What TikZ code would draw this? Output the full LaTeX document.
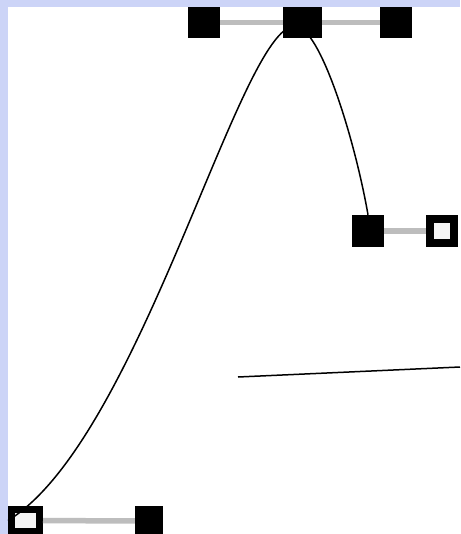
\documentclass[tikz,border=0pt]{standalone}
\usetikzlibrary{calc}
\definecolor{frame}{RGB}{204,212,247}
\begin{document}
\begin{tikzpicture}[x=1pt,y=-1pt,
  knob/.style={fill=black,inner sep=0pt,minimum width=32pt,minimum height=32pt},
  hollow/.style={draw=black,fill=black!4,line width=8pt,inner sep=0pt,
    minimum width=24pt,minimum height=24pt},
  rail/.style={draw=black!26,line width=5.5pt},
  bez/.style={draw=black,line width=1.5pt}]
  \useasboundingbox (0,0) rectangle (460,534);
  \fill[frame] (0,0) rectangle (460,534);
  \fill[white] (8,7) rectangle (460,534);

  % handles
  \node[knob,minimum height=31pt] (topL) at (204,22.5) {};
  \node[knob,minimum height=31pt,minimum width=39pt] (topM) at (302.5,22.5) {};
  \node[knob,minimum height=31pt] (topR) at (396,22.5) {};
  \node[knob] (midL) at (368,231) {};
  \node[hollow] (midR) at (442,231) {};
  \node[hollow,line width=7pt,minimum width=28pt,minimum height=22pt] (botL) at (25.5,520.5) {};
  \node[knob,minimum width=28pt,minimum height=30pt] (botR) at (149,521) {};

  \draw[rail] (topL) -- (topM);
  \draw[rail] (topM) -- (topR);
  \draw[rail] (midL) -- (midR);
  \draw[rail] (botL) -- (botR);

  % the curve
  \coordinate (apex) at (295,26);
  \draw[bez] (botL.west) .. controls (140,440) and (240,26) .. (apex)
    .. controls (320,26) and (355,140) .. (midL.north);

  \coordinate (lineA) at (238,377);
  \coordinate (lineB) at (460,367);
  \draw[bez] (lineA) -- (lineB);
\end{tikzpicture}
\end{document}
